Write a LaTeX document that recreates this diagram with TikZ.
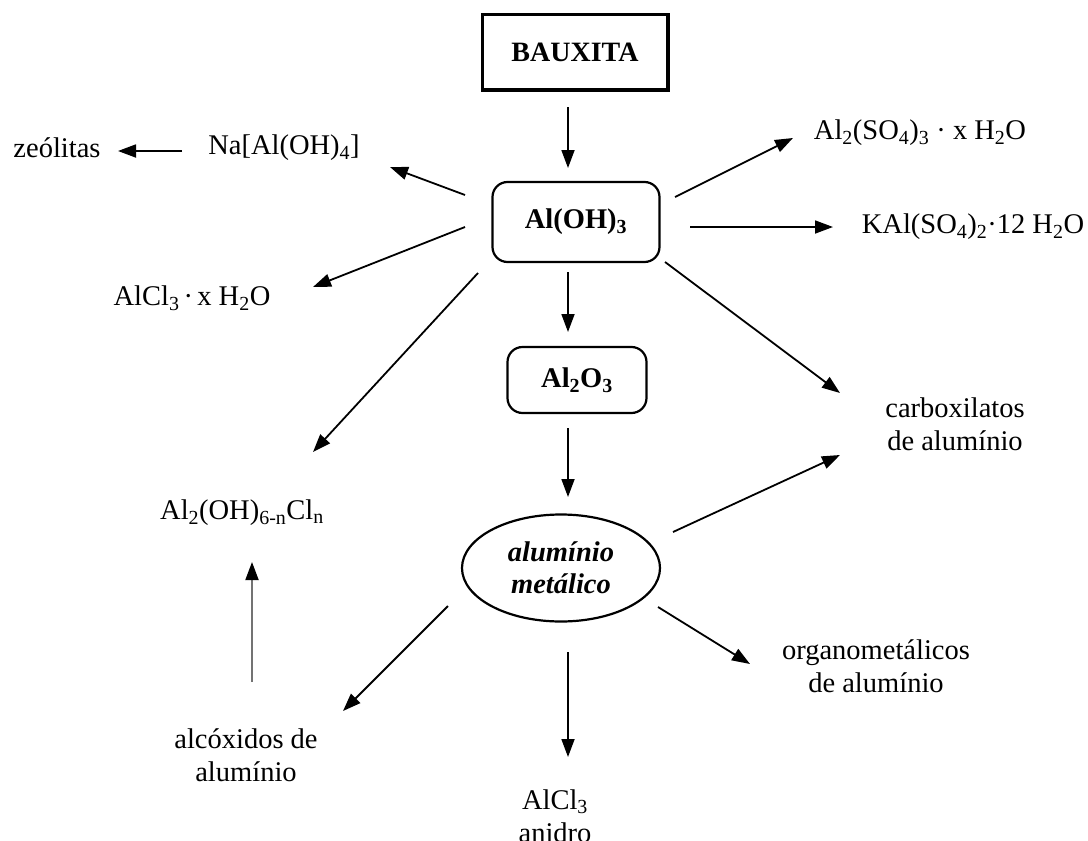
\documentclass[tikz,border=0pt]{standalone}
\usepackage{fontspec}
\setmainfont{Liberation Serif}
\usetikzlibrary{arrows.meta,shapes.geometric,calc}
\newcommand{\sbs}[1]{\textsubscript{#1}}
\tikzset{
  txt/.style={font=\fontsize{28.5}{33}\selectfont, inner sep=0pt, align=center},
  arr/.style={line width=1.8pt, -{Triangle[length=18pt,width=13pt,color=black]}},
  sqbox/.style={draw, line width=2.2pt, minimum width=185pt, minimum height=75pt, font=\fontsize{28}{33}\selectfont\bfseries},
  rbox/.style={draw, line width=2.2pt, rounded corners=15pt, font=\fontsize{28.5}{33}\selectfont\bfseries},
  ell/.style={draw, ellipse, line width=2.2pt, minimum width=198pt, minimum height=107pt, inner sep=0pt, align=center, font=\fontsize{28.5}{32}\selectfont\bfseries\itshape},
  shade/.style={line width=1.2pt}
}
\begin{document}
\begin{tikzpicture}[x=1pt,y=-1pt]
\useasboundingbox (0,0) rectangle (1088,841);
% main chain
\node[sqbox] (baux) at (575,52) {BAUXITA};
\draw[shade] ($(baux.north east)+(0.3,0)$) -- ($(baux.south east)+(0.3,0.3)$) -- ($(baux.south west)+(0,0.3)$);
\node[rbox, minimum width=167pt, minimum height=80pt] (aloh) at (576,222) {Al(OH)\sbs{3}};
\node[rbox, minimum width=139pt, minimum height=66pt] (al2o3) at (577,380) {Al\sbs{2}O\sbs{3}};
\node[ell] (almet) at (561,568) {alumínio\\metálico};
% products
\node[txt] (zeo) at (57,148) {zeólitas};
\node[txt] (na) at (284,148) {Na[Al(OH)\sbs{4}]};
\node[txt] (alcl3h) at (192,298) {AlCl\sbs{3}$\,$·$\,$x H\sbs{2}O};
\node[txt] (al2ohcl) at (242,513) {Al\sbs{2}(OH)\sbs{6-n}Cl\sbs{n}};
\node[txt] (alcox) at (246,755) {alcóxidos de\\alumínio};
\node[txt] (alcl3an) at (555,816) {AlCl\sbs{3}\\anidro};
\node[txt] (organo) at (876,666) {organometálicos\\de alumínio};
\node[txt] (al2so4) at (920,133) {Al\sbs{2}(SO\sbs{4})\sbs{3} · x H\sbs{2}O};
\node[txt] (kal) at (973,227) {KAl(SO\sbs{4})\sbs{2}·12 H\sbs{2}O};
\node[txt] (carbox) at (955,424) {carboxilatos\\de alumínio};
% connectors
\draw[arr] ($(baux)+(-7,55)$) -- ($(aloh)+(-8,-54)$);
\draw[arr] ($(aloh)+(-8,50)$) -- ($(al2o3)+(-9,-48)$);
\draw[arr] ($(al2o3)+(-9,48)$) -- ($(almet)+(7,-71)$);
\draw[arr] ($(almet)+(7,84)$) -- ($(alcl3an)+(13,-59)$);
\draw[arr] ($(almet)+(97,39)$) -- ($(organo)+(-126,-2)$);
\draw[arr] ($(almet)+(-113,38)$) -- ($(alcox)+(97,-44)$);
\draw[arr, draw=black!55] ($(alcox)+(6,-73)$) -- ($(al2ohcl)+(10,49)$);
\draw[arr] ($(aloh)+(-98,51)$) -- ($(al2ohcl)+(71,-61)$);
\draw[arr] ($(aloh)+(-111,5)$) -- ($(alcl3h)+(121,-11)$);
\draw[arr] ($(aloh)+(-111,-27)$) -- ($(na)+(106,19)$);
\draw[arr] ($(na)+(-102,3)$) -- ($(zeo)+(61,3)$);
\draw[arr] ($(aloh)+(99,-25)$) -- ($(al2so4)+(-127,5)$);
\draw[arr] ($(aloh)+(114,5)$) -- ($(kal)+(-140,0)$);
\draw[arr] ($(aloh)+(89,40)$) -- ($(carbox)+(-115,-31)$);
\draw[arr] ($(almet)+(112,-36)$) -- ($(carbox)+(-115,31)$);
\end{tikzpicture}
\end{document}
